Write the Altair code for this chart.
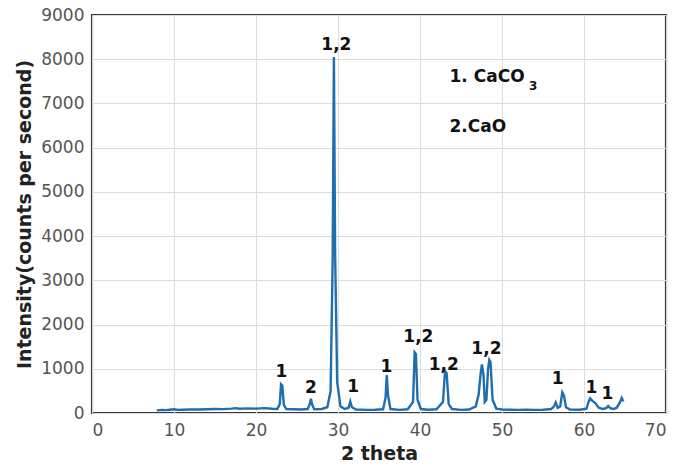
import altair as alt
import pandas as pd

# XRD pattern (2 theta, intensity in counts per second)
two_theta = [7.9, 8.5, 9.0, 9.5, 10.0, 10.5, 11.0, 12.0, 13.0, 14.0, 15.0, 16.0, 17.0, 17.5, 18.0,
             19.0, 20.0, 21.0, 22.0, 22.6, 22.9, 23.05, 23.2, 23.4, 23.7, 24.5, 25.5, 26.3, 26.55,
             26.7, 26.85, 27.1, 28.0, 28.7, 29.1, 29.35, 29.5, 29.65, 29.9, 30.3, 30.8, 31.3, 31.5,
             31.7, 32.2, 33.5, 34.5, 35.5, 35.8, 35.95, 36.1, 36.4, 37.5, 38.5, 39.15, 39.35, 39.5,
             39.7, 40.1, 41.0, 42.0, 42.8, 43.05, 43.25, 43.5, 43.9, 45.0, 46.0, 46.8, 47.15, 47.4,
             47.55, 47.75, 47.9, 48.1, 48.3, 48.45, 48.6, 48.85, 49.3, 50.0, 51.0, 52.0, 53.0, 54.0,
             55.0, 56.0, 56.35, 56.55, 56.8, 57.1, 57.35, 57.55, 57.8, 58.3, 59.5, 60.3, 60.55, 60.75,
             61.0, 61.4, 61.8, 62.3, 62.7, 62.95, 63.2, 63.6, 64.0, 64.4, 64.6, 64.8]
intensity = [60, 70, 65, 75, 85, 70, 75, 80, 78, 85, 90, 88, 100, 110, 95,
             105, 100, 110, 95, 90, 200, 650, 620, 180, 90, 85, 80, 90, 200,
             320, 190, 85, 90, 130, 500, 3500, 8050, 3600, 700, 150, 90, 120, 260,
             130, 80, 70, 75, 85, 350, 860, 400, 90, 70, 85, 250, 1370, 1330,
             300, 90, 75, 85, 250, 950, 900, 200, 90, 70, 80, 150, 420, 900,
             1100, 850, 250, 300, 1000, 1200, 1150, 300, 100, 80, 75, 70, 75, 70,
             75, 90, 150, 240, 120, 150, 470, 400, 130, 80, 75, 100, 250, 330,
             280, 220, 120, 90, 110, 160, 110, 90, 120, 250, 340, 260]

# Peak annotations
peak_text = ["1", "2", "1,2", "1", "1", "1,2", "1,2", "1,2", "1", "1", "1"]
peak_x = [23.1, 26.7, 29.8, 31.85, 35.9, 39.8, 42.9, 48.1, 56.8, 60.9, 62.85]
peak_y = [917, 556, 8323, 579, 1030, 1729, 1083, 1444, 767, 556, 429]

# Legend-like notes
note_text = ["1. CaCO", "3", "2.CaO"]
note_x = [43.6, 53.3, 43.6]
note_y = [7605, 7394, 6467]
note_size = [17, 12, 17]

x_ticks = [0, 10, 20, 30, 40, 50, 60, 70]
y_ticks = [0, 1000, 2000, 3000, 4000, 5000, 6000, 7000, 8000, 9000]

df = pd.DataFrame({"theta": two_theta, "I": intensity})
peaks = pd.DataFrame({"t": peak_text, "x": peak_x, "y": peak_y})
notes = pd.DataFrame({"t": note_text, "x": note_x, "y": note_y, "s": note_size})

xs = alt.Scale(domain=[0, 70], nice=False)
ys = alt.Scale(domain=[0, 9000], nice=False)

xaxis = alt.Axis(values=x_ticks, title="2 theta", ticks=False, labelPadding=9, titlePadding=6)
yaxis = alt.Axis(values=y_ticks, format="d", title="Intensity(counts per second)", ticks=False,
                 labelPadding=8, titlePadding=6)

line = alt.Chart(df).mark_line(color="#1f6eb0", strokeWidth=2.4).encode(
    x=alt.X("theta:Q", scale=xs, axis=xaxis),
    y=alt.Y("I:Q", scale=ys, axis=yaxis),
)

ptext = alt.Chart(peaks).mark_text(
    font="DejaVu Sans", fontWeight="bold", fontSize=17, color="#111111", baseline="middle"
).encode(x=alt.X("x:Q", scale=xs), y=alt.Y("y:Q", scale=ys), text="t:N")

ntext = alt.Chart(notes).mark_text(
    font="DejaVu Sans", fontWeight="bold", color="#111111", baseline="middle", align="left"
).encode(
    x=alt.X("x:Q", scale=xs), y=alt.Y("y:Q", scale=ys), text="t:N",
    size=alt.Size("s:Q", scale=None, legend=None),
)

chart = alt.layer(line, ptext, ntext).properties(
    width=574, height=398,
    autosize=alt.AutoSizeParams(type="none"),
    padding={"left": 92, "top": 15, "right": 19, "bottom": 57},
    background="white",
).configure_view(
    stroke="#3a3a3a", strokeWidth=2.2
).configure_axis(
    grid=True, gridColor="#dcdcdc", gridWidth=1, domain=False,
    labelFont="DejaVu Sans", labelFontSize=17, labelColor="#555555",
    titleFont="DejaVu Sans", titleFontSize=19, titleFontWeight="bold", titleColor="#222222",
)

chart.save("out.html", embed_options={"renderer": "svg", "actions": False})
